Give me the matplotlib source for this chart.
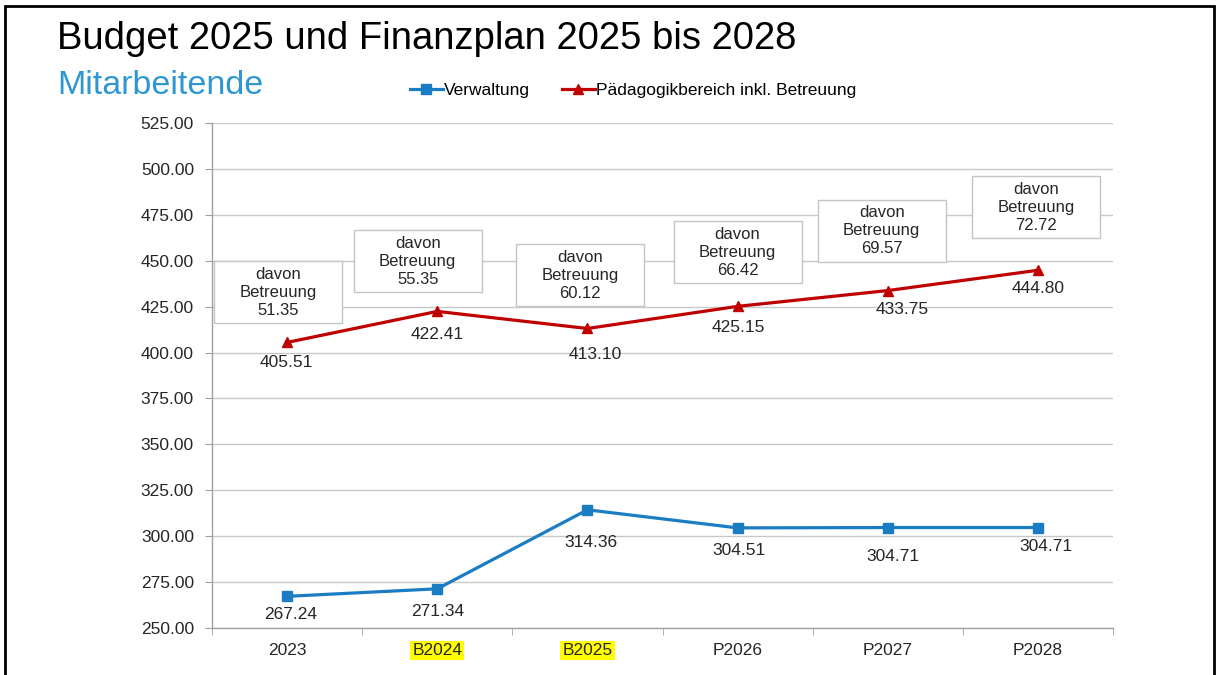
"""Budget 2025 / Finanzplan: Mitarbeitende (Verwaltung vs. Pädagogik)."""

import numpy as np
import matplotlib

matplotlib.use("Agg")
import matplotlib.pyplot as plt
from matplotlib.patches import Rectangle

matplotlib.rcParams["font.family"] = ["Liberation Sans", "DejaVu Sans"]

# --- Daten ---
years = ["2023", "B2024", "B2025", "P2026", "P2027", "P2028"]
highlighted = ["B2024", "B2025"]
verwaltung = [267.24, 271.34, 314.36, 304.51, 304.71, 304.71]
paedagogik = [405.51, 422.41, 413.10, 425.15, 433.75, 444.80]
betreuung = [51.35, 55.35, 60.12, 66.42, 69.57, 72.72]

# --- Layout (Pixel-Offsets der Beschriftungen, Boxzentren) ---
verw_off = [(4, -18), (0, -23), (4, -33), (1, -23), (5, -29), (8, -19)]
paed_off = [(-1, -20), (0, -23), (8, -26), (1, -21), (14, -19), (0, -18)]
box_x = [-0.06, 0.87, 1.95, 3.0, 3.96, 4.99]
box_y = [432.9, 449.8, 442.2, 454.7, 466.2, 479.2]
BOX_W, BOX_H = 0.853, 33.8

BLUE = "#1A7DC3"
RED = "#C00000"
GRID = "#C8C8C8"
TXT = "#262626"

fig = plt.figure(figsize=(12.18, 6.75), dpi=100)
ax = fig.add_axes([212 / 1218, 47 / 675, 901 / 1218, 505 / 675])

x = np.arange(len(years))

ax.plot(x, verwaltung, color=BLUE, lw=2.3, marker="s", ms=6.5,
        label="Verwaltung", zorder=4)
ax.plot(x, paedagogik, color=RED, lw=2.3, marker="^", ms=7,
        label="Pädagogikbereich inkl. Betreuung", zorder=4)

px = 0.72  # Pixel -> Punkte
for xi, v, (dx, dy) in zip(x, verwaltung, verw_off):
    ax.annotate(f"{v:.2f}", (xi, v), xytext=(dx * px, dy * px),
                textcoords="offset points", ha="center", va="center",
                fontsize=12.5, color=TXT, zorder=5)
for xi, v, (dx, dy) in zip(x, paedagogik, paed_off):
    ax.annotate(f"{v:.2f}", (xi, v), xytext=(dx * px, dy * px),
                textcoords="offset points", ha="center", va="center",
                fontsize=12.5, color=TXT, zorder=5)

# "davon Betreuung" Kästen
for bx, by, b in zip(box_x, box_y, betreuung):
    ax.add_patch(Rectangle((bx - BOX_W / 2, by - BOX_H / 2), BOX_W, BOX_H,
                           facecolor="white", edgecolor="#C4C4C4", lw=1.0,
                           zorder=3))
    ax.text(bx, by, f"davon\nBetreuung\n{b:.2f}", ha="center", va="center",
            fontsize=12, color=TXT, linespacing=1.25, zorder=4)

# Achsen
ax.set_xlim(-0.5, len(years) - 0.5)
ax.set_ylim(250, 525)
ax.set_yticks(np.arange(250, 526, 25))
ax.yaxis.set_major_formatter(matplotlib.ticker.FormatStrFormatter("%.2f"))
ax.set_xticks(x)
ax.set_xticklabels(years)
ax.set_xticks(np.arange(-0.5, len(years)), minor=True)
ax.tick_params(axis="x", which="major", length=0, pad=11,
               labelsize=12.5, labelcolor=TXT)
ax.tick_params(axis="x", which="minor", length=5, color="#A0A0A0")
ax.tick_params(axis="y", length=5, color="#A0A0A0", pad=8,
               labelsize=12.5, labelcolor=TXT)
ax.grid(axis="y", color=GRID, lw=1.0, zorder=0)
ax.set_axisbelow(True)
for s in ["top", "right"]:
    ax.spines[s].set_visible(False)
for s in ["left", "bottom"]:
    ax.spines[s].set_color("#A0A0A0")
    ax.spines[s].set_linewidth(1.0)

for lbl in ax.get_xticklabels():
    if lbl.get_text() in highlighted:
        lbl.set_bbox(dict(facecolor="#FFFF00", edgecolor="none", pad=1.5))

# Titel
fig.text(57 / 1218, 1 - 39 / 675, "Budget 2025 und Finanzplan 2025 bis 2028",
         fontsize=27.5, color="black", ha="left", va="center")
fig.text(57 / 1218, 1 - 85 / 675, "Mitarbeitende",
         fontsize=24.5, color="#2E97D3", ha="left", va="center")

fig.legend(loc="center left", bbox_to_anchor=(394 / 1218, 1 - 90 / 675),
           ncol=2, frameon=False, fontsize=12.5, handlelength=1.9,
           handletextpad=0.1, columnspacing=1.8)

# äusserer Rahmen
fig.add_artist(Rectangle((5 / 1218, -0.05), 1209 / 1218, 1.05 - 6 / 675,
                         transform=fig.transFigure, fill=False,
                         edgecolor="black", lw=2.0))

fig.savefig("out.png", dpi=100)
